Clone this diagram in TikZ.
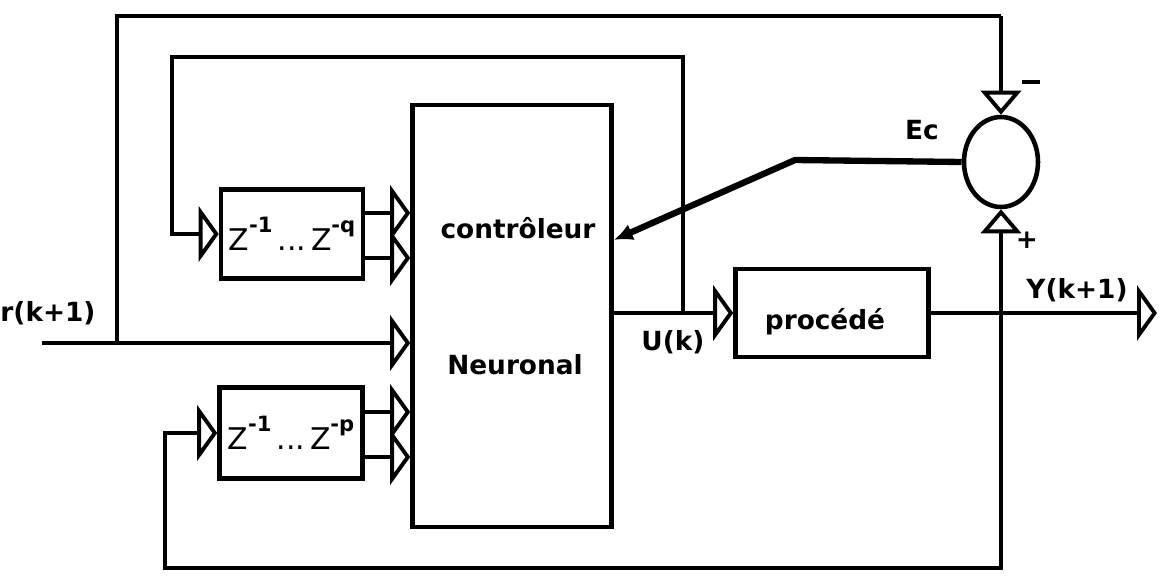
\documentclass[tikz,border=0pt]{standalone}
\usepackage{fontspec}
\setmainfont{DejaVu Sans}
\usepackage{tikz}
\usetikzlibrary{positioning, calc, shapes, arrows.meta}

\newcommand{\zexp}[1]{Z\raisebox{0.6em}{\fontsize{12}{14}\selectfont\bfseries -#1}}

\begin{document}
\begin{tikzpicture}[x=0.02cm, y=-0.02cm,
    bloc/.style={rectangle, draw, line width=2.6pt, inner sep=0pt},
    lbl/.style={font=\fontsize{15}{18}\selectfont\bfseries, inner sep=1pt},
    zlbl/.style={font=\fontsize{17}{20}\selectfont},
    arrow/.style={-{Triangle[open, length=0.4cm, width=1.1cm]}, line width=2.2pt},
    sumarrow/.style={-{Triangle[open, length=0.48cm, width=0.8cm]}, line width=2.2pt},
    line/.style={line width=2.2pt},
    ecline/.style={-{Latex[length=0.38cm, width=0.34cm]}, line width=3.6pt}
]
    \useasboundingbox (0,0) rectangle (1161,581);

    \node[bloc, minimum width=3.98cm, minimum height=8.44cm] (ctrl) at (512,316) {};
    \node[lbl] (ctrltxt) at (518,228) {contrôleur};
    \node[lbl] (neurtxt) at (515,365) {Neuronal};

    \node[bloc, zlbl, minimum width=2.84cm, minimum height=1.78cm] (dq) at (292,234) 
        {\zexp{1}\,...\,\zexp{q}};
    \node[bloc, zlbl, minimum width=2.86cm, minimum height=1.82cm] (dp) at (291,433) 
        {\zexp{1}\,...\,\zexp{p}};

    \node[bloc, minimum width=3.86cm, minimum height=1.76cm] (proc) at (832,313) {};
    \node[lbl] (proctxt) at (825,322) {procédé};

    \node[draw, ellipse, line width=2.6pt, minimum width=1.48cm, minimum height=1.8cm, inner sep=0pt] 
        (sum) at (1001,162) {};

    % signaux
    \coordinate (rin) at (42,343);
    \coordinate (b1) at (117,343);
    \coordinate (b2) at (683,313);
    \coordinate (b3) at (1001,313);
    \coordinate (yout) at (1157,313);
    \coordinate (ecknee) at (795,160);

    \draw[arrow] (rin) -- (ctrl.west |- rin);
    \draw[line] (b1) |- (1001,16);
    \draw[sumarrow] (1001,16) -- (sum.north);

    \draw[arrow] (ctrl.east |- proc.west) -- (proc.west);
    \draw[arrow] (b2) |- (172,57) |- (dq.west);

    \draw[arrow] (dq.east |- 0,213) -- (ctrl.west |- 0,213);
    \draw[arrow] (dq.east |- 0,258) -- (ctrl.west |- 0,258);
    \draw[arrow] (dp.east |- 0,412) -- (ctrl.west |- 0,412);
    \draw[arrow] (dp.east |- 0,457) -- (ctrl.west |- 0,457);

    \draw[arrow] (proc.east) -- (yout);
    \draw[sumarrow] (b3) -- (sum.south);
    \draw[arrow] (b3) |- (165,568) |- (dp.west);

    \draw[ecline] (sum.west) -- (ecknee) -- (ctrl.east |- 0,240);

    % etiquettes
    \node[lbl] (rlbl) at (48,313) {r(k+1)};
    \node[lbl] (ulbl) at (673,342) {U(k)};
    \node[lbl] (eclbl) at (922,130) {Ec};
    \node[lbl] (ylbl) at (1077,290) {Y(k+1)};
    \node[lbl] (minus) at (1031,82) {\rule{10pt}{2.4pt}};
    \node[lbl] (plus) at (1027,240) {+};
\end{tikzpicture}
\end{document}
